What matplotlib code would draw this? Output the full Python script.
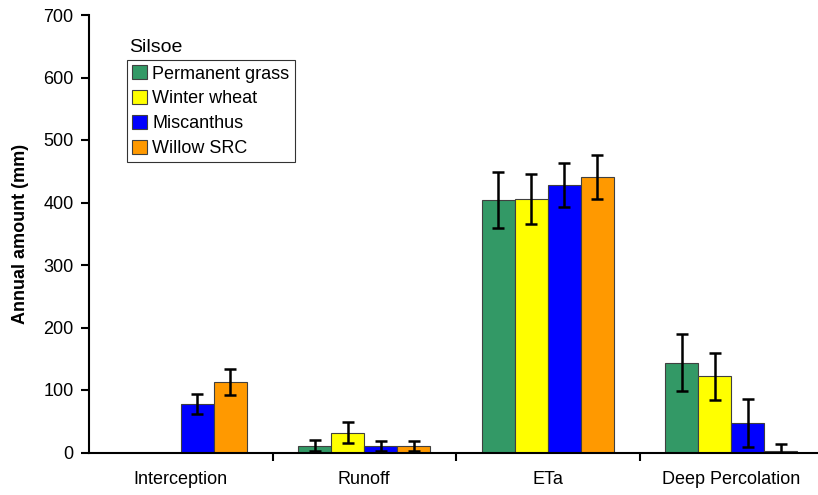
import matplotlib
matplotlib.use("Agg")
import matplotlib.pyplot as plt
import numpy as np

plt.rcParams['font.family'] = ['Liberation Sans', 'DejaVu Sans']

categories = ["Interception", "Runoff", "ETa", "Deep Percolation"]
series = ["Permanent grass", "Winter wheat", "Miscanthus", "Willow SRC"]
colors = ["#339966", "#FFFF00", "#0000FF", "#FF9900"]

grass = [0, 11, 404, 144]
grass_err = [0, 9, 45, 45]
wheat = [0, 32, 406, 122]
wheat_err = [0, 17, 40, 38]
miscanthus = [78, 10, 428, 47]
miscanthus_err = [16, 8, 35, 38]
willow = [113, 10, 441, 3]
willow_err = [21, 8, 35, 11]

values = [grass, wheat, miscanthus, willow]
errors = [grass_err, wheat_err, miscanthus_err, willow_err]

fig = plt.figure(figsize=(8.18, 4.95), dpi=100)
ax = fig.add_axes([89/818, 1 - 452.5/495, (823 - 89)/818, (452.5 - 15)/495])

x = np.arange(len(categories))
w = 0.18
offsets = (np.arange(4) - 1.5) * w
for i in range(4):
    vals = np.array(values[i], dtype=float)
    errs = np.array(errors[i], dtype=float)
    mask = vals > 0
    ax.bar(x[mask] + offsets[i], vals[mask], width=w, color=colors[i],
           edgecolor="#404040", linewidth=0.8, label=series[i], zorder=2)
    ax.errorbar(x[mask] + offsets[i], vals[mask], yerr=errs[mask], fmt="none",
                ecolor="black", elinewidth=1.8, capsize=4, capthick=1.8, zorder=3)

ax.set_xlim(-0.5, 3.5)
ax.set_ylim(0, 700)
ax.set_yticks(range(0, 701, 100))
ax.set_xticks(x)
ax.set_xticklabels(categories, fontsize=13)
ax.set_xticks([0.5, 1.5, 2.5], minor=True)
ax.tick_params(axis='x', which='major', length=0, pad=13)
ax.tick_params(axis='x', which='minor', length=6, width=1.5, direction='out')
ax.tick_params(axis='y', length=6, width=1.5, direction='out', labelsize=13, pad=5)

for s in ["top", "right"]:
    ax.spines[s].set_visible(False)
ax.spines["left"].set_linewidth(1.5)
ax.spines["bottom"].set_linewidth(1.5)

ax.set_ylabel("Annual amount (mm)", fontsize=13, fontweight='bold', labelpad=10)

leg = ax.legend(loc="upper left", bbox_to_anchor=(38/734, 1 - 45/437.5),
                frameon=True, fancybox=False, edgecolor="black", fontsize=13,
                handlelength=0.8, handleheight=0.8, handletextpad=0.3,
                labelspacing=0.42, borderpad=0.3, borderaxespad=0)
leg.get_frame().set_linewidth(0.8)
ax.text(40/734, 1 - 33/437.5, "Silsoe", transform=ax.transAxes, fontsize=14,
        ha="left", va="center")

fig.savefig("out.png", dpi=100)
